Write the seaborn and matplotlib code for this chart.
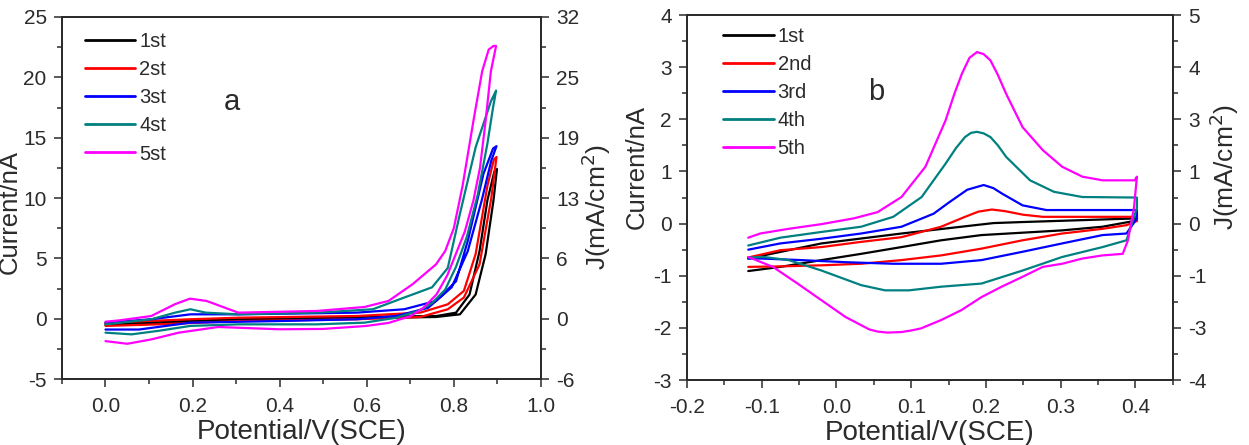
import numpy as np
import pandas as pd
import matplotlib
matplotlib.use("Agg")
import matplotlib.pyplot as plt
import seaborn as sns
from matplotlib.ticker import MultipleLocator, FixedLocator, FormatStrFormatter

# ---- panel a : closed CV loops (upper-left branch, then lower-right branch back)
a_labels = ["1st", "2st", "3st", "4st", "5st"]

a1_E = [0.0, 0.3, 0.58, 0.76, 0.805, 0.836, 0.859, 0.877, 0.893, 0.899,
        0.891, 0.873, 0.85, 0.814, 0.759, 0.577, 0.214, 0.0]
a1_I = [-0.42, -0.05, 0.14, 0.22, 0.5, 2.0, 5.6, 9.8, 12.2, 12.4,
        9.8, 5.35, 2.0, 0.36, 0.14, 0.03, -0.25, -0.53]

a2_E = [0.0, 0.195, 0.305, 0.577, 0.723, 0.786, 0.823, 0.85, 0.877, 0.892, 0.898,
        0.886, 0.859, 0.823, 0.786, 0.723, 0.577, 0.305, 0.123, 0.0]
a2_I = [-0.33, -0.05, 0.08, 0.22, 0.5, 1.19, 2.3, 5.35, 11.0, 13.2, 13.4,
        10.0, 4.5, 1.75, 0.78, 0.14, -0.05, -0.2, -0.47, -0.6]

a3_E = [0.0, 0.105, 0.195, 0.305, 0.577, 0.686, 0.759, 0.805, 0.832, 0.868, 0.89, 0.898,
        0.886, 0.864, 0.832, 0.795, 0.741, 0.668, 0.577, 0.395, 0.195, 0.077, 0.0]
a3_I = [-0.33, -0.05, 0.36, 0.36, 0.5, 0.78, 1.47, 3.1, 6.45, 12.0, 14.1, 14.3,
        13.1, 9.8, 5.6, 2.6, 0.9, 0.22, -0.05, -0.2, -0.33, -0.9, -0.9]

a4_E = [0.0, 0.105, 0.16, 0.195, 0.23, 0.305, 0.486, 0.614, 0.686, 0.75, 0.786, 0.814, 0.85,
        0.885, 0.897,
        0.89, 0.877, 0.855, 0.83, 0.805, 0.78, 0.75, 0.723, 0.668, 0.595, 0.486, 0.305, 0.195,
        0.123, 0.06, 0.0]
a4_I = [-0.47, -0.05, 0.5, 0.78, 0.5, 0.36, 0.5, 0.78, 1.75, 2.6, 4.2, 8.7, 14.2,
        18.0, 18.9,
        17.5, 14.5, 10.3, 6.8, 4.3, 2.4, 1.3, 0.7, 0.08, -0.33, -0.47, -0.47, -0.6,
        -1.0, -1.3, -1.16]

a5_E = [0.0, 0.032, 0.105, 0.159, 0.194, 0.232, 0.305, 0.486, 0.595, 0.65, 0.705, 0.759,
        0.78, 0.8, 0.82, 0.845, 0.865, 0.88, 0.891,
        0.897, 0.885, 0.873, 0.86, 0.845, 0.825, 0.805, 0.785, 0.76, 0.73, 0.7, 0.65, 0.6,
        0.5, 0.4, 0.259, 0.168, 0.105, 0.05, 0.0]
a5_I = [-0.25, -0.14, 0.22, 1.19, 1.66, 1.47, 0.5, 0.64, 0.97, 1.47, 2.85, 4.5,
        5.6, 7.5, 11.0, 16.4, 20.5, 22.3, 22.6,
        22.6, 20.5, 16.4, 12.5, 9.8, 7.2, 5.4, 3.6, 2.0, 0.9, 0.2, -0.35, -0.6,
        -0.85, -0.88, -0.69, -1.16, -1.72, -2.08, -1.86]

# ---- panel b
b_labels = ["1st", "2nd", "3rd", "4th", "5th"]

b1_E = [-0.118, -0.02, 0.087, 0.167, 0.21, 0.249, 0.402,
        0.402, 0.356, 0.302, 0.194, 0.14, 0.087, 0.033, -0.02, -0.075, -0.118]
b1_I = [-0.67, -0.38, -0.19, -0.06, 0.01, 0.03, 0.1,
        0.06, -0.06, -0.13, -0.22, -0.32, -0.45, -0.58, -0.7, -0.83, -0.91]

b2_E = [-0.118, -0.075, -0.02, 0.033, 0.087, 0.14, 0.172, 0.19, 0.208, 0.225, 0.25, 0.276, 0.402,
        0.402, 0.388, 0.356, 0.302, 0.249, 0.194, 0.14, 0.087, 0.033, -0.02, -0.075, -0.118]
b2_I = [-0.65, -0.51, -0.45, -0.35, -0.26, -0.06, 0.13, 0.23, 0.27, 0.24, 0.17, 0.13, 0.13,
        0.05, -0.03, -0.1, -0.19, -0.32, -0.48, -0.61, -0.7, -0.77, -0.8, -0.82, -0.83]

b3_E = [-0.118, -0.075, -0.02, 0.033, 0.087, 0.13, 0.15, 0.175, 0.197, 0.21, 0.221, 0.249,
        0.281, 0.402,
        0.402, 0.388, 0.356, 0.302, 0.249, 0.194, 0.14, 0.076, 0.012, -0.047, -0.1, -0.118]
b3_I = [-0.5, -0.38, -0.29, -0.19, -0.06, 0.19, 0.4, 0.65, 0.74, 0.68, 0.58, 0.35,
        0.26, 0.26,
        0.1, -0.19, -0.22, -0.38, -0.54, -0.7, -0.77, -0.77, -0.74, -0.7, -0.67, -0.67]

b4_E = [-0.118, -0.075, -0.02, 0.033, 0.076, 0.114, 0.146, 0.16, 0.172, 0.18, 0.188, 0.197,
        0.206, 0.216, 0.227, 0.259, 0.291, 0.329, 0.402,
        0.402, 0.388, 0.356, 0.302, 0.249, 0.194, 0.14, 0.097, 0.065, 0.033, -0.02, -0.064,
        -0.097, -0.118]
b4_I = [-0.42, -0.27, -0.16, -0.06, 0.13, 0.51, 1.15, 1.45, 1.66, 1.74, 1.76, 1.73,
        1.66, 1.5, 1.28, 0.83, 0.61, 0.51, 0.5,
        0.3, -0.32, -0.45, -0.64, -0.9, -1.15, -1.21, -1.28, -1.28, -1.18, -0.9, -0.7,
        -0.64, -0.65]

b5_E = [-0.118, -0.102, -0.064, -0.02, 0.023, 0.055, 0.087, 0.119, 0.146, 0.158, 0.168, 0.178,
        0.188, 0.197, 0.206, 0.216, 0.227, 0.249, 0.276, 0.302, 0.329, 0.356, 0.399, 0.402,
        0.398, 0.39, 0.383, 0.356, 0.329, 0.302, 0.276, 0.249, 0.221, 0.194, 0.167, 0.14,
        0.113, 0.1, 0.087, 0.068, 0.055, 0.044, 0.012, -0.02, -0.052, -0.085, -0.118]
b5_I = [-0.27, -0.19, -0.1, -0.01, 0.1, 0.22, 0.51, 1.09, 1.98, 2.5, 2.88, 3.18,
        3.29, 3.25, 3.13, 2.85, 2.49, 1.85, 1.41, 1.09, 0.9, 0.83, 0.83, 0.9,
        0.3, -0.32, -0.58, -0.61, -0.67, -0.77, -0.83, -1.02, -1.21, -1.41, -1.66, -1.85,
        -2.01, -2.05, -2.08, -2.09, -2.07, -2.03, -1.79, -1.47, -1.15, -0.83, -0.64]

colors = ["#000000", "#ff0000", "#0000ff", "#008080", "#ff00ff"]

a_loops = [(a1_E, a1_I), (a2_E, a2_I), (a3_E, a3_I), (a4_E, a4_I), (a5_E, a5_I)]
b_loops = [(b1_E, b1_I), (b2_E, b2_I), (b3_E, b3_I), (b4_E, b4_I), (b5_E, b5_I)]

a_right_ticks = [-5, 0, 5, 10, 15, 20, 25]
a_right_labels = ["-6", "0", "6", "13", "19", "25", "32"]
b_right_ticks = [-3, -2, -1, 0, 1, 2, 3, 4]
b_right_labels = ["-4", "-3", "-1", "0", "1", "3", "4", "5"]


def to_df(loops, labels):
    rows = []
    for (E, I), lab in zip(loops, labels):
        for k, (e, i) in enumerate(zip(E, I)):
            rows.append({"E": e, "I": i, "cycle": lab, "order": k})
    return pd.DataFrame(rows)


sns.set_style("ticks")
plt.rcParams["font.family"] = ["Liberation Sans", "DejaVu Sans"]
plt.rcParams["xtick.direction"] = "out"
plt.rcParams["ytick.direction"] = "out"

ink = "#2b2b2b"
fig = plt.figure(figsize=(12.49, 4.45), dpi=100)
ax_a = fig.add_axes([0.0496, 0.1483, 0.3835, 0.8135])
ax_b = fig.add_axes([0.550, 0.146, 0.389, 0.8202])


def style_ticks(ax):
    ax.tick_params(which="major", length=6, width=1.1, labelsize=15, pad=5,
                   colors=ink, labelcolor=ink)
    ax.tick_params(which="minor", length=3.5, width=1.1, colors=ink)
    for s in ax.spines.values():
        s.set_linewidth(1.3)
        s.set_color(ink)


def draw(ax, loops, labels, xlim, ylim, xmaj, xmin, ymaj, ymin, rticks, rlabels,
         letter, lpos, ylab_pos, jlab_pos):
    df = to_df(loops, labels)
    sns.lineplot(data=df, x="E", y="I", hue="cycle", units="cycle", estimator=None,
                 sort=False, palette=colors, linewidth=1.6, ax=ax)
    ax.set_xlim(*xlim)
    ax.set_ylim(*ylim)
    ax.xaxis.set_major_locator(MultipleLocator(xmaj))
    ax.xaxis.set_minor_locator(MultipleLocator(xmin))
    ax.yaxis.set_major_locator(MultipleLocator(ymaj))
    ax.yaxis.set_minor_locator(MultipleLocator(ymin))
    ax.xaxis.set_major_formatter(FormatStrFormatter("%.1f"))
    ax.yaxis.set_major_formatter(FormatStrFormatter("%g"))
    style_ticks(ax)
    ax.tick_params(axis="x", which="major", pad=7)
    ax.set_xlabel("Potential/V(SCE)", fontsize=20, labelpad=2, color=ink)
    ax.set_ylabel("Current/nA", fontsize=18.5, color=ink)
    ax.yaxis.set_label_coords(*ylab_pos)
    ax.text(letter[0], letter[1], letter[2], fontsize=21, color=ink, ha="center", va="center")
    leg = ax.legend(loc="upper left", bbox_to_anchor=lpos, frameon=False, fontsize=14.5,
                    handlelength=2.5, labelspacing=0.45, handletextpad=0.2, borderaxespad=0)
    for h in leg.get_lines():
        h.set_linewidth(2.0)
    for t in leg.get_texts():
        t.set_color(ink)

    tw = ax.twinx()
    tw.set_ylim(*ylim)
    tw.yaxis.set_major_locator(FixedLocator(rticks))
    tw.yaxis.set_minor_locator(MultipleLocator(ymin))
    tw.set_yticklabels(rlabels)
    style_ticks(tw)
    tw.set_ylabel("J(mA/cm$^2$)", fontsize=19, color=ink)
    tw.yaxis.set_label_coords(*jlab_pos)


draw(ax_a, a_loops, a_labels, (-0.1, 1.0), (-5, 25), 0.2, 0.1, 5, 2.5,
     a_right_ticks, a_right_labels, (0.29, 17.95, "a"), (0.031, 0.98),
     (-0.083, 0.46), (1.081, 0.475))
draw(ax_b, b_loops, b_labels, (-0.2, 0.45), (-3, 4), 0.1, 0.05, 1, 0.5,
     b_right_ticks, b_right_labels, (0.053, 2.52, "b"), (0.058, 0.99),
     (-0.078, 0.584), (1.072, 0.584))

fig.savefig("out.png", dpi=100)
